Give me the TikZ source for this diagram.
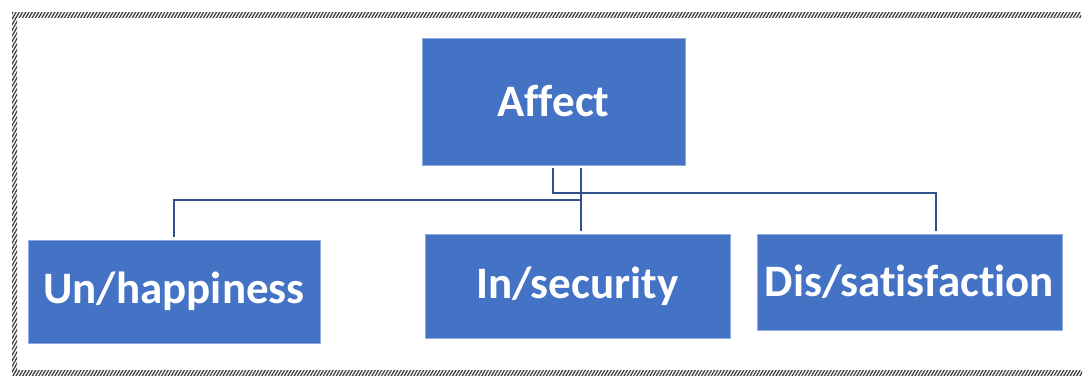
\documentclass[tikz,border=0pt]{standalone}
\usepackage{fontspec}
\setmainfont[Ligatures=NoCommon]{Carlito}
\usetikzlibrary{patterns.meta}
\definecolor{boxblue}{HTML}{4472C4}
\definecolor{boxedge}{HTML}{8FAADC}
\definecolor{linkblue}{HTML}{2F528F}
\tikzset{
  box/.style={rectangle, fill=boxblue, draw=boxedge, line width=0.8pt,
    text=white, font=\fontsize{45}{50}\selectfont\bfseries, inner sep=0pt},
  link/.style={draw=linkblue, line width=2.8pt, shorten <=2.5pt, shorten >=2.5pt},
  hatch/.style={pattern={Lines[angle=60, distance=2.8pt, line width=1.3pt]},
    pattern color=black!75}
}
\begin{document}
\begin{tikzpicture}[x=1pt, y=-1pt]
  \useasboundingbox (0,0) rectangle (1085,376);
  \fill[white] (0,0) rectangle (1085,376);
  % hatched frame (top, left, bottom)
  \fill[hatch] (12,12) rectangle (1081,17);
  \fill[hatch] (12,17) rectangle (17,370);
  \fill[hatch] (12,370) rectangle (1082,375);

  % boxes
  \node[box, minimum width=263pt, minimum height=127pt] (affect) at (553.5,101.5) {Affect};
  \node[box, minimum width=292pt, minimum height=103pt] (unh) at (174,291.5) {Un/happiness};
  \node[box, minimum width=305pt, minimum height=104pt] (insec) at (577.5,286) {In/security};
  \node[box, minimum width=305pt, minimum height=96pt] (dis) at (909.5,282) {Dis/satisfaction};

  % junction points of the connectors
  \coordinate (colA) at (553,0);
  \coordinate (colB) at (581,0);
  \coordinate (rowA) at (0,193);
  \coordinate (rowB) at (0,200);
  \coordinate (disTop) at ([xshift=26.5pt]dis.north);
  \coordinate (inTop) at ([xshift=3.5pt]insec.north);

  % connectors
  \draw[link] (affect.south -| colA) |- (rowA -| disTop) -- (disTop);
  \draw[link] (affect.south -| colB) |- (rowB -| unh.north) -- (unh.north);
  \draw[link] (affect.south -| colB) -- (inTop);
\end{tikzpicture}
\end{document}
